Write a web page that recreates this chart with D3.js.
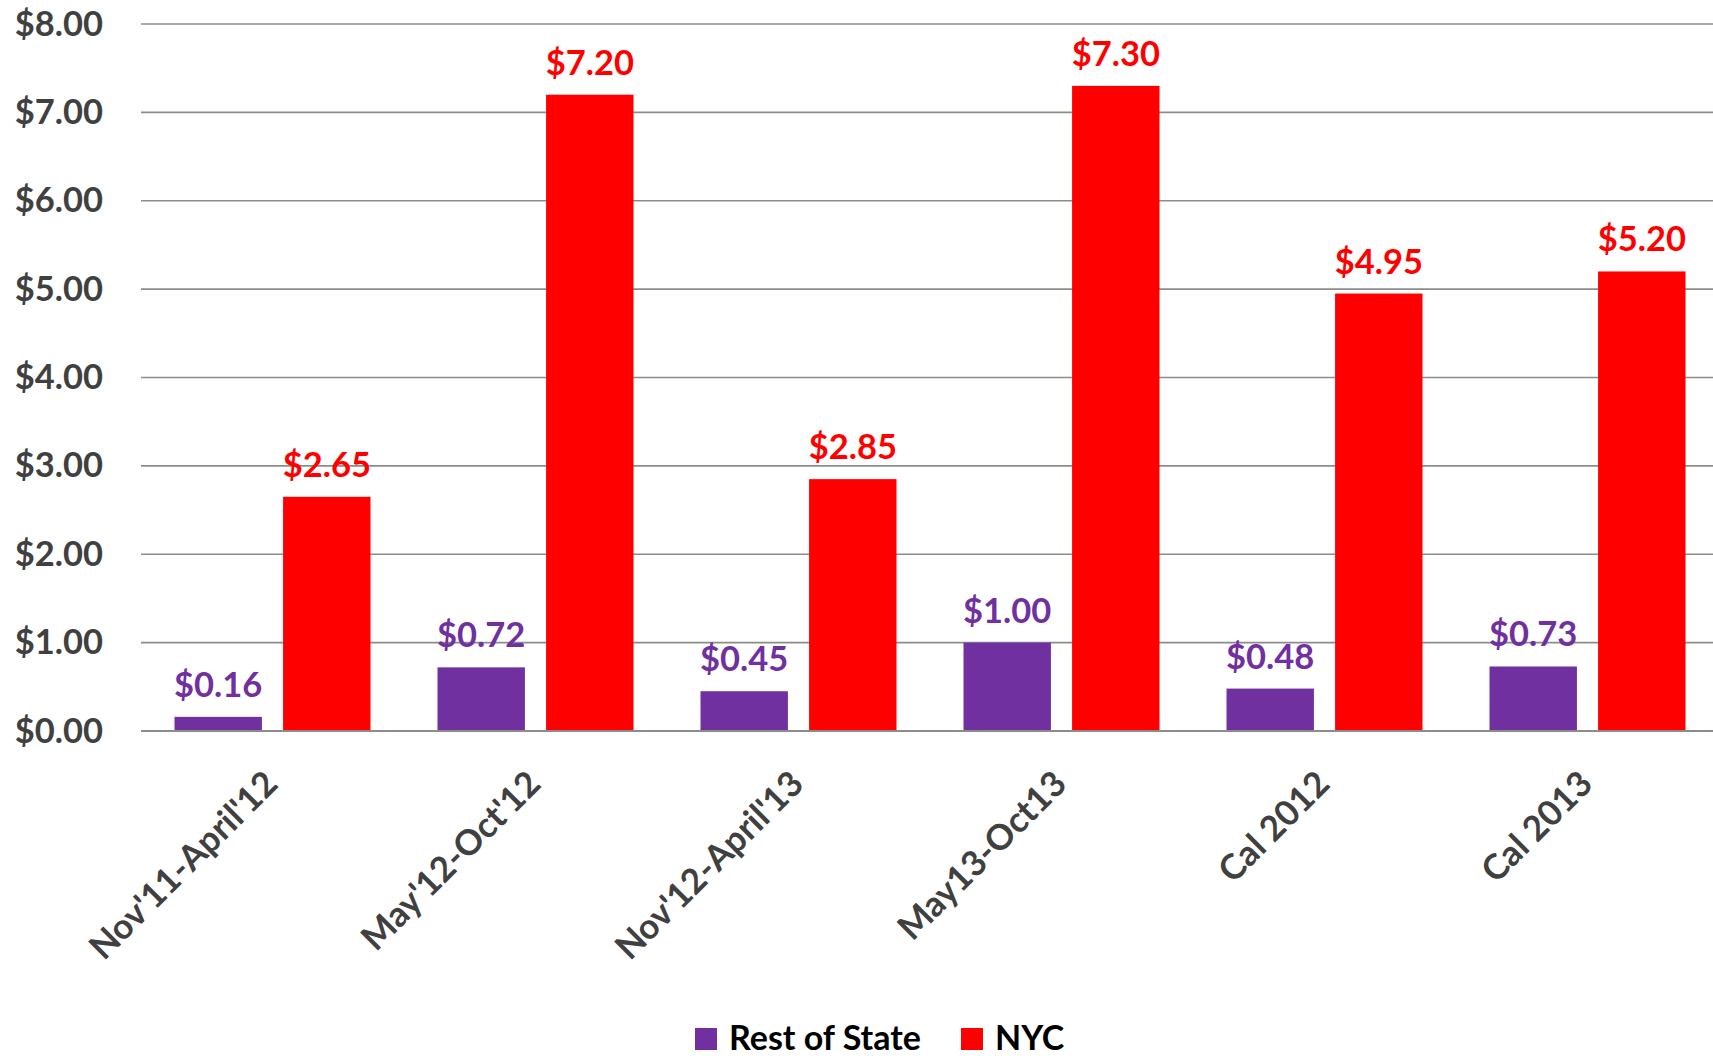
<!DOCTYPE html>
<html><head><meta charset="utf-8">
<script src="https://cdn.jsdelivr.net/npm/d3@7"></script>
<style>body{margin:0;background:#fff}svg{display:block}</style>
</head><body>
<svg id="c" width="1713" height="1056"></svg>
<script>
const categories = ["Nov'11-April'12","May'12-Oct'12","Nov'12-April'13","May13-Oct13","Cal 2012","Cal 2013"];
const seriesNames = ["Rest of State","NYC"];
const restOfState = [0.16,0.72,0.45,1.00,0.48,0.73];
const nyc = [2.65,7.20,2.85,7.30,4.95,5.20];
const yTicks = [0,1,2,3,4,5,6,7,8];
const colors = {"Rest of State":"#7030A0","NYC":"#FF0000"};

const svg = d3.select("#c");
const FONT = "Lato, 'Open Sans', sans-serif";
const x0 = d3.scaleBand().domain(categories).range([141,1719]).padding(0);
const x1 = d3.scaleBand().domain(seriesNames).range([33.5,229.5]).paddingInner(0.195).paddingOuter(0);
const y = d3.scaleLinear().domain([0,8]).range([731,24]);

// gridlines
svg.append("g").selectAll("line").data(yTicks.filter(d=>d>0)).join("line")
  .attr("x1",141).attr("x2",1713).attr("y1",d=>y(d)).attr("y2",d=>y(d))
  .attr("stroke","#8c8c8c").attr("stroke-width",1.6);

// y axis
const yAxis = d3.axisLeft(y).tickValues(yTicks).tickSize(0).tickPadding(38).tickFormat(d=>"$"+d3.format(".2f")(d));
const gy = svg.append("g").attr("transform","translate(141,0)").call(yAxis);
gy.select(".domain").remove();
gy.selectAll("text").attr("font-family",FONT).attr("font-weight","bold").attr("font-size",34.5).attr("fill","#404040");

const data = categories.map((c,i)=>({cat:c, vals:[{s:"Rest of State",v:restOfState[i]},{s:"NYC",v:nyc[i]}]}));
const groups = svg.append("g").selectAll("g").data(data).join("g")
  .attr("transform",d=>`translate(${x0(d.cat)},0)`);
groups.selectAll("rect").data(d=>d.vals).join("rect")
  .attr("x",d=>x1(d.s)).attr("width",x1.bandwidth())
  .attr("y",d=>y(d.v)).attr("height",d=>y(0)-y(d.v))
  .attr("fill",d=>colors[d.s]);
groups.selectAll("text").data(d=>d.vals).join("text")
  .attr("x",d=>x1(d.s)+x1.bandwidth()/2).attr("y",d=>y(d.v)-20)
  .attr("text-anchor","middle").attr("font-family",FONT).attr("font-weight","bold")
  .attr("font-size",34.5).attr("fill",d=>colors[d.s])
  .text(d=>"$"+d3.format(".2f")(d.v));

// baseline
svg.append("line").attr("x1",141).attr("x2",1713).attr("y1",y(0)).attr("y2",y(0))
  .attr("stroke","#8c8c8c").attr("stroke-width",2);

// x axis labels
const xAxis = d3.axisBottom(x0).tickSize(0).tickPadding(0);
const gx = svg.append("g").attr("transform",`translate(0,${y(0)})`).call(xAxis);
gx.select(".domain").remove();
gx.selectAll("text").attr("font-family",FONT).attr("font-weight","bold").attr("font-size",35)
  .attr("fill","#404040").attr("text-anchor","end").attr("dy",0).attr("y",0)
  .attr("transform","translate(7,55) rotate(-45)");

// legend
const legend = svg.append("g").attr("transform","translate(695,1028)");
const items = [{s:"Rest of State",x:0},{s:"NYC",x:266}];
const li = legend.selectAll("g").data(items).join("g").attr("transform",d=>`translate(${d.x},0)`);
li.append("rect").attr("width",22).attr("height",22).attr("fill",d=>colors[d.s]);
li.append("text").attr("x",34).attr("y",22).attr("font-family",FONT).attr("font-weight","bold")
  .attr("font-size",34).attr("fill","#000").text(d=>d.s);
</script>
</body></html>
